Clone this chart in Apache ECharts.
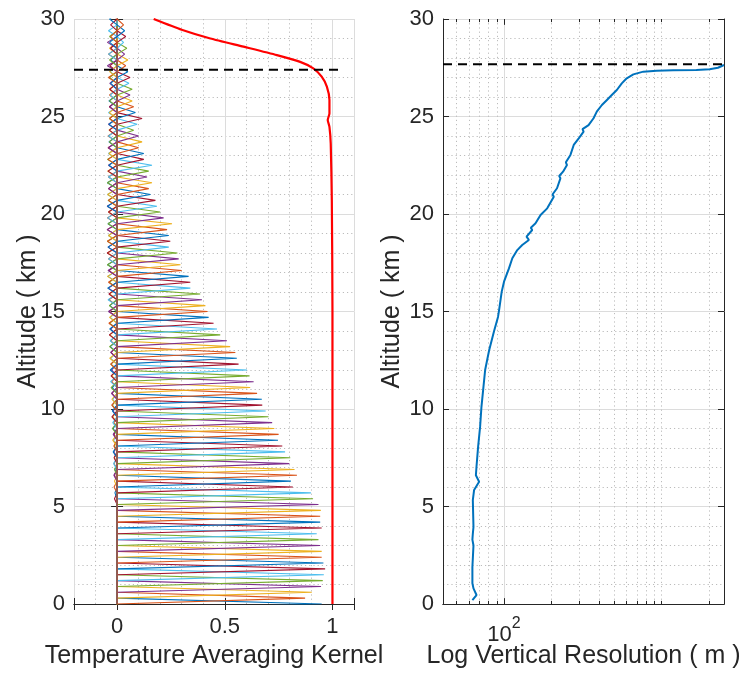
<!DOCTYPE html>
<html><head><meta charset="utf-8">
<script src="https://cdn.jsdelivr.net/npm/echarts@6/dist/echarts.min.js"></script>
<style>html,body{margin:0;padding:0;background:#fff}#c{width:751px;height:675px}</style>
</head><body><div id="c"></div>
<script>
// ---- data ----
const levels = [0,0.3,0.6,0.9,1.2,1.5,1.8,2.1,2.4,2.7,3,3.3,3.6,3.9,4.2,4.5,4.8,5.1,5.4,5.7,
 6,6.3,6.6,6.9,7.2,7.5,7.8,8.1,8.4,8.7,9,9.3,9.6,9.9,10.2,10.5,10.8,11.1,11.4,11.7,
 12,12.3,12.6,12.9,13.2,13.5,13.8,14.1,14.4,14.7,15,15.3,15.6,15.9,16.2,16.5,16.8,17.1,17.4,17.7,
 18,18.3,18.6,18.9,19.2,19.5,19.8,20.1,20.4,20.7,21,21.3,21.6,21.9,22.2,22.5,22.8,23.1,23.4,23.7,
 24,24.3,24.6,24.9,25.2,25.5,25.8,26.1,26.4,26.7,27,27.3,27.6,27.9,28.2,28.5,28.8,29.1,29.4,29.7];
const peaks = [0.95,0.873,0.904,0.947,0.955,0.96,0.966,0.958,0.95,0.95,
 0.943,0.935,0.927,0.95,0.943,0.943,0.946,0.935,0.91,0.9,
 0.816,0.807,0.835,0.824,0.8,0.804,0.78,0.767,0.747,0.75,
 0.73,0.72,0.703,0.69,0.674,0.672,0.65,0.618,0.634,0.615,
 0.603,0.564,0.556,0.549,0.525,0.51,0.479,0.464,0.448,0.425,
 0.42,0.41,0.394,0.386,0.34,0.34,0.332,0.3,0.294,0.286,
 0.28,0.24,0.247,0.24,0.232,0.255,0.216,0.2,0.185,0.178,
 0.155,0.147,0.162,0.139,0.147,0.162,0.124,0.124,0.1,0.116,
 0.1,0.077,0.093,0.116,0.085,0.077,0.07,0.06,0.07,0.055,
 0.06,0.05,0.04,0.05,0.035,0.045,0.03,0.04,0.035,0.03];
const lobes = [0,0,0,0,0,0,0,0,0,0, 0,0,0,0,0,0,0,0,0,0,
 -0.012,-0.01,-0.014,-0.012,-0.015,-0.012,-0.016,-0.014,-0.018,-0.015,
 -0.02,-0.018,-0.022,-0.02,-0.024,-0.022,-0.025,-0.024,-0.026,-0.028,
 -0.03,-0.028,-0.032,-0.03,-0.034,-0.03,-0.035,-0.032,-0.036,-0.034,
 -0.038,-0.035,-0.04,-0.036,-0.042,-0.038,-0.044,-0.04,-0.045,-0.042,
 -0.045,-0.04,-0.046,-0.042,-0.045,-0.04,-0.046,-0.042,-0.044,-0.04,
 -0.045,-0.04,-0.044,-0.04,-0.045,-0.04,-0.042,-0.038,-0.042,-0.038,
 -0.04,-0.036,-0.04,-0.036,-0.038,-0.035,-0.036,-0.034,-0.035,-0.032,
 -0.034,-0.03,-0.04,-0.035,-0.045,-0.035,-0.04,-0.03,-0.035,-0.03];
const kernelColors = ['#0072BD','#D95319','#EDB120','#7E2F8E','#77AC30','#4DBEEE','#A2142F'];

const responseX   = [1.0, 1.0, 0.997, 0.992, 0.986, 0.978, 0.986, 0.986, 0.974, 0.95, 0.911, 0.85, 0.742, 0.587, 0.433, 0.3, 0.17];
const responseAlt = [0, 15, 20.7, 23.6, 24.47, 24.82, 25.16, 25.84, 26.53, 27.04, 27.47, 27.8, 28.15, 28.58, 29.0, 29.45, 30.0];

const resolution = [63,66.9,64,63,63,64,63,63.4,64,63.4,64.6,69.5,66.3,66.9,68.5,70.5,71.9,73.7,75.9,80.4,86.5,91.6,93,
 96.7,100,107.5,112.9,121.4,130.5,143.8,139,151,148,158.5,170.6,188,207,203,217,228,224,237,251,247,264,277,298,
 320,315,344,370,365,388,418,450,483,476,520,559,601,662,766,929,1186,1663,2018,2280,2490];
const resolutionAlt = [0.2,0.46,0.8,1.06,1.9,3.0,3.3,3.6,3.95,5.33,5.85,6.27,6.6,7.05,8.07,9.08,10.1,10.97,12.0,13.0,14.0,14.72,15.06,
 16.02,16.53,17.21,17.73,18.15,18.41,18.67,18.84,19.18,19.3,19.52,19.95,20.29,20.89,21.0,21.32,21.83,21.95,22.17,22.51,22.65,23.03,23.54,23.88,
 24.22,24.35,24.56,24.91,25.0,25.25,25.59,25.85,26.1,26.2,26.36,26.7,26.96,27.16,27.3,27.35,27.37,27.38,27.42,27.5,27.64];

const kernelThresholdAlt = 27.4;
const kernelThresholdX = [-0.2, 1.04];
const resThresholdAlt = 27.68;
const resThresholdX = [41, 2490];

const kernelTickValues = [0, 0.5, 1];
const kernelTickLabels = ['0', '0.5', '1'];
const logMajorTicks = [100];
const logMinorTicks = [50,60,70,80,90,200,300,400,500,600,700,800,900,1000,2000];

// ---- style ----
const FONT = 'Liberation Sans, Arial, Helvetica, sans-serif';
const TXT = '#262626';
const AX = { show: true, lineStyle: { color: '#262626', width: 1 } };
const MAJ = { show: true, lineStyle: { color: '#dcdcdc', width: 1, type: 'solid' } };
const MIN = { show: true, lineStyle: { color: '#bcbcbc', width: 1, type: [1.2, 3] } };

const chart = echarts.init(document.getElementById('c'), null, { renderer: 'canvas' });

const series = [];
levels.forEach((z, k) => {
  const p = peaks[k], s = lobes[k];
  const pts = [];
  if (z - 0.9 > 0) pts.push([0, 0]);
  pts.push([0, z - 0.9], [s, z - 0.6], [0, z - 0.3], [p, z], [0, z + 0.3], [s, z + 0.6], [0, z + 0.9]);
  if (z + 0.9 < 30) pts.push([0, 30]);
  series.push({ type: 'line', xAxisIndex: 0, yAxisIndex: 0, data: pts, symbol: 'none', showSymbol: false,
    lineStyle: { color: kernelColors[k % 7], width: 1.1 }, silent: true, animation: false, z: 2 });
});
series.push({ type: 'line', xAxisIndex: 0, yAxisIndex: 0, symbol: 'none', silent: true, animation: false, z: 3,
  smooth: 0.2, data: responseX.map((x, i) => [x, responseAlt[i]]), lineStyle: { color: '#FF0000', width: 2.2 } });
series.push({ type: 'line', xAxisIndex: 0, yAxisIndex: 0, symbol: 'none', silent: true, animation: false, z: 4,
  data: kernelThresholdX.map(x => [x, kernelThresholdAlt]), lineStyle: { color: '#000', width: 2, type: [9, 6] } });

// right panel grid lines & ticks through the log axis
const mlData = [];
logMinorTicks.forEach(v => {
  mlData.push({ xAxis: v, lineStyle: { color: '#bcbcbc', width: 1, type: [1.2, 3] } });
  mlData.push([{ coord: [v, 0], lineStyle: { color: '#262626', width: 1, type: 'solid' } }, { coord: [v, 0.16] }]);
  mlData.push([{ coord: [v, 30], lineStyle: { color: '#262626', width: 1, type: 'solid' } }, { coord: [v, 29.84] }]);
});
logMajorTicks.forEach(v => {
  mlData.push({ xAxis: v, lineStyle: { color: '#dcdcdc', width: 1, type: 'solid' } });
  mlData.push([{ coord: [v, 0], lineStyle: { color: '#262626', width: 1, type: 'solid' } }, { coord: [v, 0.3] }]);
  mlData.push([{ coord: [v, 30], lineStyle: { color: '#262626', width: 1, type: 'solid' } }, { coord: [v, 29.7] }]);
});
series.push({ type: 'line', xAxisIndex: 2, yAxisIndex: 2, data: [], silent: true, animation: false, z: 1,
  markLine: { silent: true, symbol: ['none', 'none'], label: { show: false }, animation: false, z: 1,
    emphasis: { disabled: true }, data: mlData } });
series.push({ type: 'line', xAxisIndex: 2, yAxisIndex: 2, symbol: 'none', silent: true, animation: false, z: 3,
  data: resolution.map((x, i) => [x, resolutionAlt[i]]), lineStyle: { color: '#0072BD', width: 2 } });
series.push({ type: 'line', xAxisIndex: 2, yAxisIndex: 2, symbol: 'none', silent: true, animation: false, z: 4,
  data: resThresholdX.map(x => [x, resThresholdAlt]), lineStyle: { color: '#000', width: 2, type: [9, 6] } });

const yBase = (grid, pos, labels) => ({
  type: 'value', gridIndex: grid, position: pos, min: 0, max: 30, interval: 5,
  axisLine: AX, axisTick: { show: true, inside: true, length: 6, lineStyle: { color: '#262626' } },
  axisLabel: labels ? { show: true, fontSize: 22, color: TXT, fontFamily: FONT, margin: 9 } : { show: false },
  splitLine: labels ? MAJ : { show: false },
  minorTick: { show: false, splitNumber: 5 },
  minorSplitLine: labels ? MIN : { show: false },
  name: labels ? 'Altitude ( km )' : '', nameLocation: 'middle', nameGap: grid === 0 ? 33 : 38,
  nameMoveOverlap: false,
  nameTextStyle: { fontSize: 25, color: TXT, fontFamily: FONT }
});

const kernelX = (pos, labels) => ({
  type: 'value', gridIndex: 0, position: pos, min: -0.2, max: 1.1, minInterval: 0.5, maxInterval: 0.5, splitNumber: 3,
  axisLine: AX, axisTick: { show: true, inside: true, length: 6, lineStyle: { color: '#262626' } },
  axisLabel: labels ? { show: true, fontSize: 22, color: TXT, fontFamily: FONT, margin: 12,
    formatter: v => { const i = kernelTickValues.findIndex(t => Math.abs(t - v) < 1e-9); return i < 0 ? '' : kernelTickLabels[i]; } } : { show: false },
  splitLine: labels ? MAJ : { show: false },
  minorTick: { show: false, splitNumber: 5 },
  minorSplitLine: labels ? MIN : { show: false },
  name: labels ? 'Temperature Averaging Kernel' : '', nameLocation: 'middle', nameGap: 40,
  nameMoveOverlap: false,
  nameTextStyle: { fontSize: 25, color: TXT, fontFamily: FONT }
});

const logX = (pos, labels) => ({
  type: 'log', logBase: 10, gridIndex: 1, position: pos, min: resThresholdX[0], max: resThresholdX[1],
  axisLine: AX, axisTick: { show: false }, splitLine: { show: false },
  axisLabel: labels ? { show: true, margin: 12, color: TXT, fontFamily: FONT,
    formatter: v => (logMajorTicks.some(t => Math.abs(t - v) / t < 1e-6) ? '{a|10}{b|2}' : ''),
    rich: { a: { fontSize: 22, color: TXT, fontFamily: FONT, lineHeight: 30, verticalAlign: 'bottom' },
            b: { fontSize: 16, color: TXT, fontFamily: FONT, lineHeight: 30, verticalAlign: 'top' } } } : { show: false },
  name: labels ? 'Log Vertical Resolution ( m )' : '', nameLocation: 'middle', nameGap: 40,
  nameMoveOverlap: false,
  nameTextStyle: { fontSize: 25, color: TXT, fontFamily: FONT }
});

chart.setOption({
  animation: false,
  backgroundColor: '#fff',
  textStyle: { fontFamily: FONT },
  grid: [
    { left: 74, top: 19, width: 280, height: 585, containLabel: false, outerBoundsMode: 'none' },
    { left: 443, top: 19, width: 281, height: 585, containLabel: false, outerBoundsMode: 'none' }
  ],
  xAxis: [kernelX('bottom', true), kernelX('top', false), logX('bottom', true), logX('top', false)],
  yAxis: [yBase(0, 'left', true), yBase(0, 'right', false), yBase(1, 'left', true), yBase(1, 'right', false)],
  series: series
});
</script>
</body></html>
